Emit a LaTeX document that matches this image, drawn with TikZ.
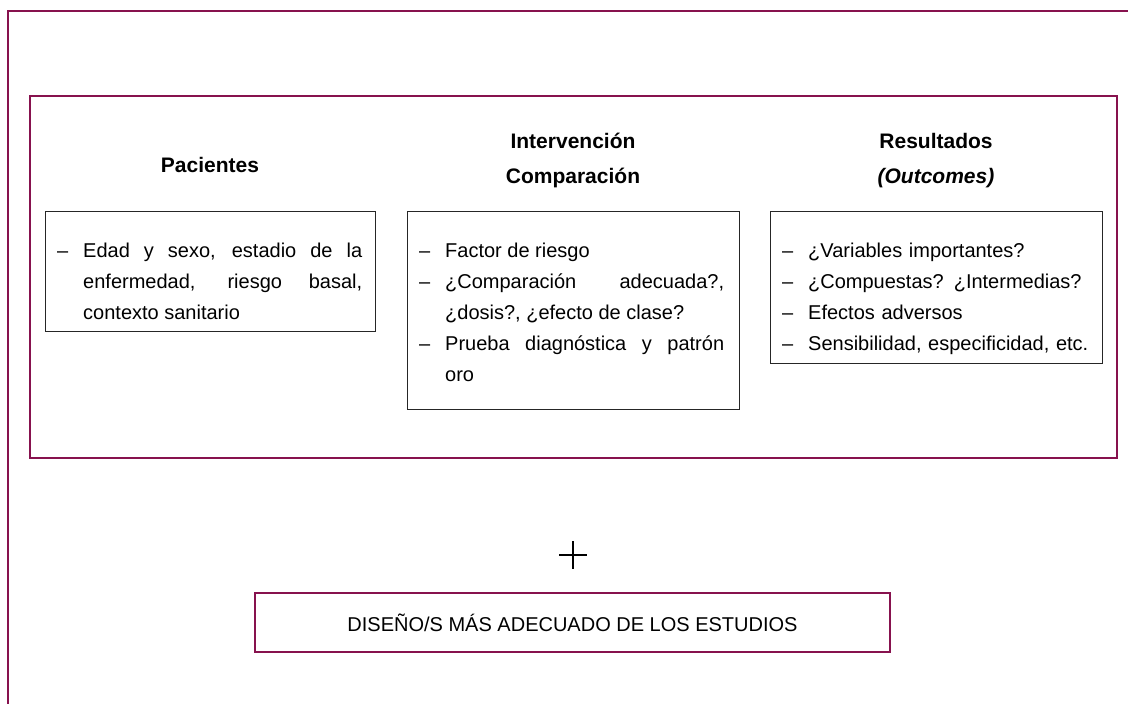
\documentclass[tikz,border=0pt]{standalone}
\usepackage{fontspec}
\setmainfont{Liberation Sans}
\definecolor{maroon}{RGB}{135,18,78}
\newcommand{\itm}[1]{\par\noindent\hangindent=26pt\hangafter=1\makebox[26pt][l]{\strut–}#1\par}
\begin{document}
\begin{tikzpicture}[x=1pt,y=-1pt,
  frameline/.style={draw=maroon, line width=2.4pt},
  itembox/.style={draw=black!85, line width=1.1pt, inner sep=0pt, anchor=north west},
  itemtext/.style={anchor=north west, inner sep=0pt, text width=305pt,
     font=\fontsize{20}{31}\selectfont},
  head/.style={font=\bfseries\fontsize{21}{35}\selectfont, align=center, inner sep=0pt},
  plusline/.style={draw=black, line width=1.5pt}]
\useasboundingbox (0,0) rectangle (1128,704);
% outer frame (open to right and bottom)
\coordinate (oTR) at (1140,11);
\coordinate (oTL) at (8,11);
\coordinate (oBL) at (8,720);
\draw[frameline] (oTR) -- (oTL) -- (oBL);
% inner frame
\node[frameline, inner sep=0pt, anchor=north west, minimum width=1087pt, minimum height=362pt] (frame) at (29,95) {};
% headings
\node[head] (hP) at (210,165) {Pacientes};
\node[head] (hI) at (573,160.5) {Intervención\\Comparación};
\node[head] (hR) at (936,160.5) {Resultados\\\textit{(Outcomes)}};
% boxes
\node[itembox, minimum width=330pt, minimum height=120pt] (b1) at (45,211) {};
\node[itembox, minimum width=332pt, minimum height=198pt] (b2) at (407,211) {};
\node[itembox, minimum width=332pt, minimum height=152pt] (b3) at (770,211) {};
% box texts
\node[itemtext, align=justify] (t1) at (57,226.3) {\hyphenpenalty=10000
  \itm{Edad y sexo, estadio de la\linebreak enfermedad, riesgo basal,\linebreak contexto sanitario}};
\node[itemtext, align=justify] (t2) at (419,226.3) {\hyphenpenalty=10000
  \itm{Factor de riesgo}
  \itm{¿Comparación adecuada?,\linebreak ¿dosis?, ¿efecto de clase?}
  \itm{Prueba diagnóstica y patrón\linebreak oro}};
\node[itemtext, align=left, text width=318pt] (t3) at (782,226.3) {\hyphenpenalty=10000
  \itm{¿Variables importantes?}
  \itm{¿Compuestas? ¿Intermedias?}
  \itm{Efectos adversos}
  \itm{Sensibilidad, especificidad, etc.}};
% plus
\coordinate (plus) at (573,555);
\draw[plusline] ([xshift=-14pt]plus) -- ([xshift=14pt]plus);
\draw[plusline] ([yshift=14pt]plus) -- ([yshift=-14pt]plus);
% bottom box
\node[draw=maroon, line width=1.1pt, minimum width=635pt, minimum height=59pt,
  font=\fontsize{20}{24}\selectfont] (design) at (572.5,622.5) {DISEÑO/S MÁS ADECUADO DE LOS ESTUDIOS};
\end{tikzpicture}
\end{document}
